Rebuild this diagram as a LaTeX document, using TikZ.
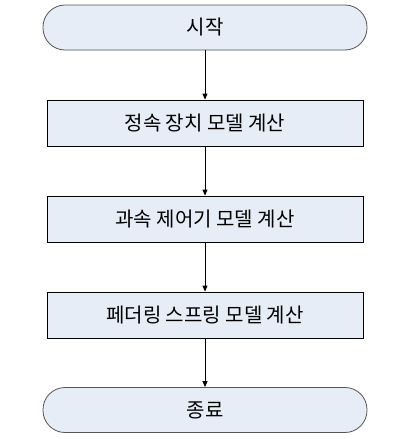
\documentclass[tikz,border=0pt]{standalone}
\usepackage{fontspec}
\newfontfamily\kr{Noto Sans CJK KR}
\usetikzlibrary{arrows.meta}
\definecolor{boxfill}{HTML}{E7EDF7}
\definecolor{termline}{HTML}{555555}
\tikzset{
  x=1pt,y=1pt,
  term/.style={draw=termline, line width=0.8pt, fill=boxfill, rounded corners=22pt,
    minimum width=324pt, minimum height=45pt, inner sep=0pt, font=\kr\fontsize{20}{22}\selectfont},
  procbox/.style={draw=black, line width=0.8pt, fill=boxfill,
    minimum width=316pt, minimum height=46pt, inner sep=0pt, font=\kr\fontsize{20}{22}\selectfont},
  flow/.style={draw=black, line width=0.8pt, -{Triangle[length=6pt,width=5pt]}}
}
\begin{document}
\begin{tikzpicture}
\useasboundingbox (0,0) rectangle (413,-439);
\node[term] (s) at (205,-27.5) {시작};
\node[procbox] (a) at (205,-123) {정속 장치 모델 계산};
\node[procbox] (b) at (205,-219) {과속 제어기 모델 계산};
\node[procbox] (c) at (205,-315) {페더링 스프링 모델 계산};
\node[term] (e) at (205,-410) {종료};
\draw[flow] (s) -- (a);
\draw[flow] (a) -- (b);
\draw[flow] (b) -- (c);
\draw[flow] (c) -- (e);
\end{tikzpicture}
\end{document}
